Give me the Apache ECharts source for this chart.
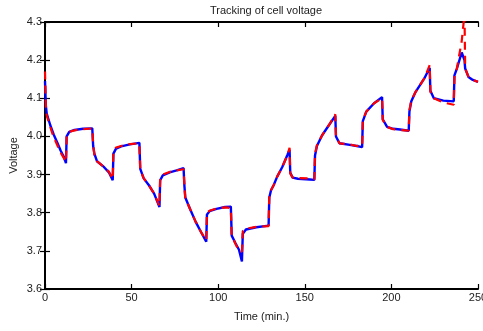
<!DOCTYPE html>
<html>
<head>
<meta charset="utf-8">
<script src="https://cdn.jsdelivr.net/npm/echarts@6/dist/echarts.min.js"></script>
<style>html,body{margin:0;padding:0;background:#fff;}#c{width:483px;height:331px;}</style>
</head>
<body>
<div id="c"></div>
<script>
const timeMin = [0,0.5,1,2,3,5,7,9,11,12.1,
  12.5,14,17,22,27.3,
  27.8,28.5,30,34,37,39.1,
  39.5,41,44,49,54.5,
  55,57,60,63,66.1,
  66.5,68,72,76,80,
  80.5,81,84,87,90,93.1,
  93.5,95,99,104,107.3,
  107.8,110,112,113.7,
  114.2,116,122,129.1,
  129.5,130.5,132,134,137,140,141.2,
  141.6,143,146,153,155.5,
  155.9,157,160,164,167.6,
  168,170,176,180,183.1,
  183.5,185.5,190,194.6,
  195,197.5,201,205,210,
  210.4,211.5,214,219,222.1,
  222.5,224.5,230,236,
  236.4,237.8,240.6,242.2,
  242.6,244.5,247,250];
const measuredV = [4.145,4.08,4.06,4.045,4.03,4.005,3.985,3.963,3.945,3.93,
  4.0,4.012,4.017,4.02,4.021,
  3.975,3.955,3.935,3.92,3.905,3.885,
  3.955,3.968,3.974,3.979,3.983,
  3.915,3.89,3.872,3.85,3.815,
  3.885,3.898,3.906,3.911,3.917,
  3.87,3.84,3.807,3.776,3.75,3.724,
  3.795,3.804,3.81,3.815,3.816,
  3.74,3.72,3.703,3.672,
  3.745,3.756,3.762,3.766,
  3.84,3.859,3.872,3.894,3.92,3.952,3.965,
  3.905,3.892,3.889,3.887,3.886,
  3.95,3.975,4.003,4.03,4.054,
  4.0,3.982,3.978,3.975,3.972,
  4.04,4.065,4.087,4.103,
  4.045,4.025,4.02,4.018,4.015,
  4.065,4.092,4.117,4.152,4.18,
  4.12,4.1,4.094,4.092,
  4.16,4.178,4.22,4.2,
  4.178,4.156,4.148,4.143];
const estimatedV = [4.17,4.08,4.055,4.04,4.025,3.998,3.978,3.958,3.942,3.933,
  4.005,4.012,4.016,4.019,4.021,
  3.98,3.952,3.935,3.92,3.907,3.888,
  3.96,3.971,3.975,3.98,3.982,
  3.912,3.89,3.872,3.85,3.817,
  3.89,3.9,3.907,3.911,3.914,
  3.87,3.838,3.807,3.776,3.75,3.728,
  3.8,3.805,3.811,3.814,3.812,
  3.74,3.718,3.7,3.698,
  3.752,3.758,3.763,3.765,
  3.845,3.859,3.872,3.894,3.92,3.951,3.97,
  3.903,3.892,3.891,3.89,3.888,
  3.955,3.977,4.003,4.03,4.058,
  4.0,3.982,3.979,3.975,3.975,
  4.043,4.065,4.087,4.1,
  4.043,4.025,4.019,4.017,4.015,
  4.069,4.095,4.117,4.152,4.187,
  4.117,4.1,4.089,4.083,
  4.161,4.178,4.25,4.32,
  4.178,4.156,4.148,4.143];
const xTicks = [0,50,100,150,200,250];
const yTicks = [3.6,3.7,3.8,3.9,4.0,4.1,4.2,4.3];

const font = 'Liberation Sans, Arial, sans-serif';
const chart = echarts.init(document.getElementById('c'), null, {renderer:'canvas'});
const axisLine = {show:true, lineStyle:{color:'#000', width:2}};
const tick = {show:true, inside:true, length:5, lineStyle:{color:'#000', width:1.2}};
const lbl = {color:'#222', fontFamily:font, fontSize:11};
chart.setOption({
  animation:false,
  title:{text:'Tracking of cell voltage', left:261, top:0, textAlign:'center',
    textStyle:{fontFamily:font, fontSize:11, fontWeight:'normal', color:'#222'}},
  grid:{left:45, right:5, top:22, bottom:42, containLabel:false, outerBoundsMode:'none'},
  xAxis:[
    {type:'value', min:xTicks[0], max:xTicks[xTicks.length-1], interval:50, position:'bottom',
     name:'Time (min.)', nameLocation:'middle', nameGap:22, nameMoveOverlap:false,
     nameTextStyle:{fontFamily:font, fontSize:11, color:'#222'},
     axisLine:axisLine, axisTick:tick, splitLine:{show:false},
     axisLabel:Object.assign({margin:3, showMaxLabel:true}, lbl)},
    {type:'value', min:0, max:250, interval:50, position:'top',
     axisLine:axisLine, axisTick:tick, splitLine:{show:false}, axisLabel:{show:false}}
  ],
  yAxis:[
    {type:'value', min:yTicks[0], max:yTicks[yTicks.length-1], interval:0.1, position:'left',
     name:'Voltage', nameLocation:'middle', nameGap:26, nameRotate:90, nameMoveOverlap:false,
     nameTextStyle:{fontFamily:font, fontSize:11, color:'#222'},
     axisLine:axisLine, axisTick:tick, splitLine:{show:false},
     axisLabel:Object.assign({margin:3, formatter:v=>v.toFixed(1)}, lbl)},
    {type:'value', min:3.6, max:4.3, interval:0.1, position:'right',
     axisLine:axisLine, axisTick:tick, splitLine:{show:false}, axisLabel:{show:false}}
  ],
  series:[
    {type:'line', name:'Measured', showSymbol:false, clip:true,
     data:timeMin.map((t,i)=>[t, measuredV[i]]),
     lineStyle:{color:'#0000ff', width:2.4}},
    {type:'line', name:'Estimated', showSymbol:false, clip:true,
     data:timeMin.map((t,i)=>[t, estimatedV[i]]),
     lineStyle:{color:'#ff0000', width:2.2, type:[8,6]}}
  ]
});
</script>
</body>
</html>
